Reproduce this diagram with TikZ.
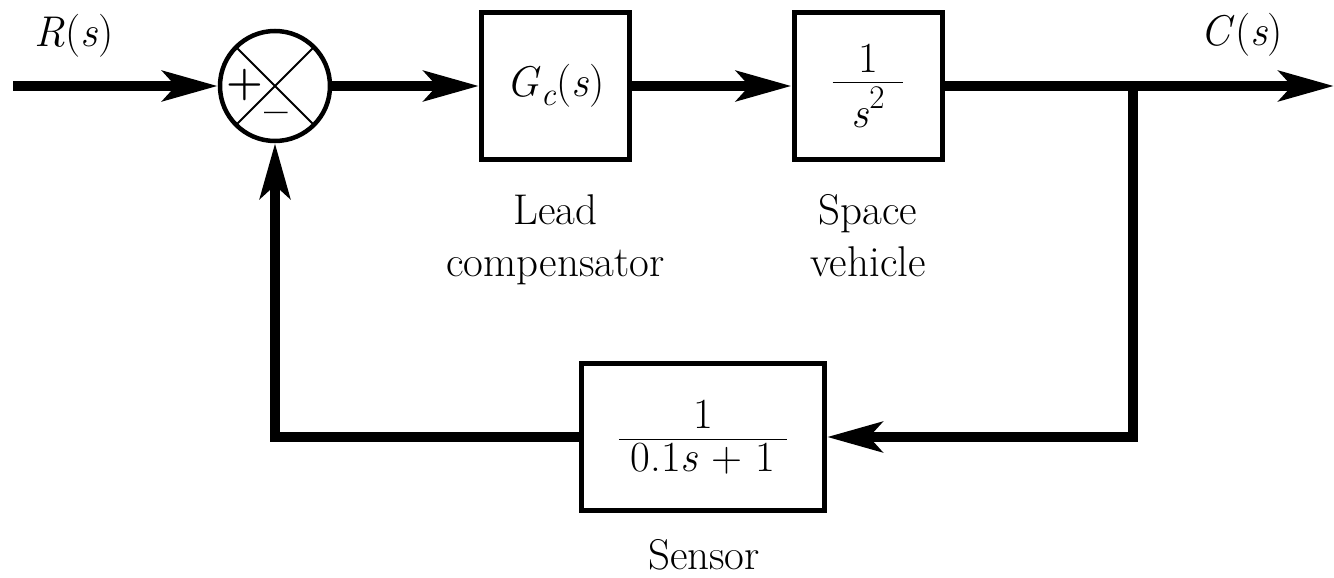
\documentclass[tikz,border=0pt]{standalone}
\usepackage{amsmath}
\usepackage{fontspec}
\usetikzlibrary{arrows.meta}
\newcommand{\iv}[1]{\textit{#1}}
\begin{document}
\begin{tikzpicture}[x=1pt,y=-1pt,
  every node/.style={font=\fontsize{43}{52}\selectfont},
  blockbox/.style={draw,line width=5pt,inner sep=0pt,minimum width=148pt,minimum height=147pt},
  sumnode/.style={draw,circle,line width=4.5pt,inner sep=0pt,minimum size=110pt},
  sig/.style={line width=10pt,line join=miter},
  arr/.style={sig,-{Stealth[length=55pt,width=30pt,inset=13pt]}},
  lbl/.style={align=center,inner sep=0pt},
  sgn/.style={inner sep=0pt,font=\fontsize{42}{42}\selectfont}]
\useasboundingbox (0,0) rectangle (1334,578);
% blocks
\node[sumnode] (sum) at (275,86) {};
\draw[line width=2pt] (sum.center) -- ++(45:54) (sum.center) -- ++(135:54)
  (sum.center) -- ++(225:54) (sum.center) -- ++(315:54);
\node[sgn] (plus) at (245,85) {\textbf{+}};
\node[sgn] (minus) at (276,118) {\textbf{\textendash}};
\node[blockbox] (gc) at (555.5,86) {\iv{G}\raisebox{-0.2em}{\fontsize{33}{33}\selectfont\iv{c}}(\iv{s})};
\node[blockbox] (sv) at (868,86) {$\dfrac{\text{1}}{\hbox to 1.65em{\hss\iv{s}\raisebox{0.45em}{\fontsize{33}{33}\selectfont 2}\hss}}$};
\node[blockbox,minimum width=243pt] (sensor) at (703,437) {$\dfrac{\text{1}}{\text{\;0.1\iv{s} + 1\;}}$};
% coordinates
\coordinate (in) at (13,86);
\coordinate (br) at (1133,86);
\coordinate (out) at (1334,86);
% connectors
\draw[arr] (in) -- (sum.west);
\draw[arr] (sum.east) -- (gc.west);
\draw[arr] (gc.east) -- (sv.west);
\draw[arr] (sv.east) -- (out);
\draw[arr] (br) |- (sensor.east);
\draw[arr] (sensor.west) -| (sum.south);
% labels
\node[anchor=base,inner sep=0pt] (rlbl) at (74,47) {\iv{R}(\iv{s})};
\node[anchor=base,inner sep=0pt] (clbl) at (1242,46) {\iv{C}(\iv{s})};
\node[lbl,anchor=north] (gclbl) at (555.5,194) {Lead\\compensator};
\node[lbl,anchor=north] (svlbl) at (868,194) {Space\\vehicle};
\node[anchor=base,inner sep=0pt] (senlbl) at (704,569) {Sensor};
\end{tikzpicture}
\end{document}
